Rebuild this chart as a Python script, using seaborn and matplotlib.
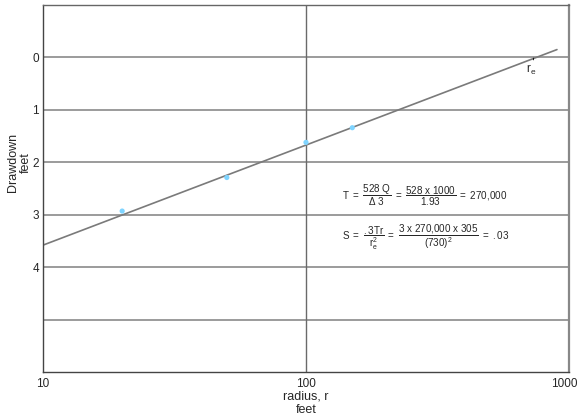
import matplotlib
matplotlib.use("Agg")
import matplotlib.pyplot as plt
import matplotlib.transforms as mtransforms
import seaborn as sns
from matplotlib.ticker import LogLocator, NullFormatter, FixedLocator

sns.set_style("white")
plt.rcParams['font.family'] = ['Liberation Sans', 'DejaVu Sans']
plt.rcParams['mathtext.default'] = 'regular'
plt.rcParams['mathtext.fontset'] = 'custom'
plt.rcParams['mathtext.rm'] = 'Liberation Sans'
plt.rcParams['mathtext.it'] = 'Liberation Sans'

# observed points
radius = [20, 50, 100, 150]
drawdown = [2.93, 2.29, 1.62, 1.34]
# fitted straight line
line_r = [10, 900]
line_s = [3.58, -0.15]

y_ticks = [0, 1, 2, 3, 4, 5]
y_labels = ['0', '1', '2', '3', '4', '']
x_ticks = [10, 100, 1000]
x_labels = ['10', '100', '1000']

fig = plt.figure(figsize=(5.78, 4.18), dpi=100)
ax = fig.add_axes([0.0744, 0.110, 0.91, 0.878])

ax.set_xscale('log')
for yv in y_ticks:
    ax.axhline(yv, color='#8a8a8a', lw=1.2, zorder=1)
ax.axvline(100, color='#6a6a6a', lw=1.0, zorder=1)

sns.lineplot(x=line_r, y=line_s, ax=ax, color='#7a7a7a', lw=1.2, zorder=2)
sns.scatterplot(x=radius, y=drawdown, ax=ax, color='#7fd4ff', s=14,
                edgecolor='none', zorder=3)

ax.set_xlim(10, 1000)
ax.set_ylim(6, -1)
ax.set_yticks(y_ticks)
ax.set_yticklabels(y_labels, fontsize=8.5)
ax.xaxis.set_major_locator(FixedLocator(x_ticks))
ax.set_xticklabels(x_labels, fontsize=8.5)
ax.xaxis.set_minor_locator(LogLocator(base=10, subs=range(2, 10)))
ax.xaxis.set_minor_formatter(NullFormatter())
ax.tick_params(axis='x', which='minor', direction='in', length=4, width=0.8, color='#444444')
ax.tick_params(axis='x', which='major', length=0, pad=4)
ax.tick_params(axis='y', which='major', length=0, pad=3)

# nudge the last x tick label inside the figure like the reference
last = ax.get_xticklabels()[-1]
last.set_transform(last.get_transform() + mtransforms.ScaledTranslation(-5/100, 0, fig.dpi_scale_trans))

for side, sp in ax.spines.items():
    sp.set_visible(True)
    sp.set_color('#666666')
    sp.set_linewidth(1.0)
ax.spines['right'].set_linewidth(1.6)
ax.spines['right'].set_color('#888888')
ax.spines['left'].set_color('#444444')
ax.spines['bottom'].set_color('#444444')

ax.set_ylabel('Drawdown\nfeet', fontsize=9, linespacing=1.0)
ax.yaxis.set_label_coords(-0.022, 0.572)
ax.set_xlabel('radius, r\nfeet', fontsize=9, labelpad=1, linespacing=1.1)

ax.text(137, 2.64, r'$T\ =\ \dfrac{528\ Q}{\Delta\ 3}\ =\ \dfrac{528\ x\ 1000}{1.93}\ =\ 270{,}000$',
        fontsize=7.1, va='center', ha='left')
ax.text(137, 3.43, r'$S\ =\ \dfrac{.3Tr}{r_e^2}\ =\ \dfrac{3\ x\ 270{,}000\ x\ 305}{(730)^2}\ =\ .03$',
        fontsize=7.1, va='center', ha='left')

ax.text(715, 0.24, r'$r_e$', fontsize=8.5, ha='center', va='center')
ax.annotate('', xy=(735, -0.04), xytext=(730, 0.1),
            arrowprops=dict(arrowstyle='-', color='black', lw=0.6))

fig.savefig('out.png', dpi=100)
